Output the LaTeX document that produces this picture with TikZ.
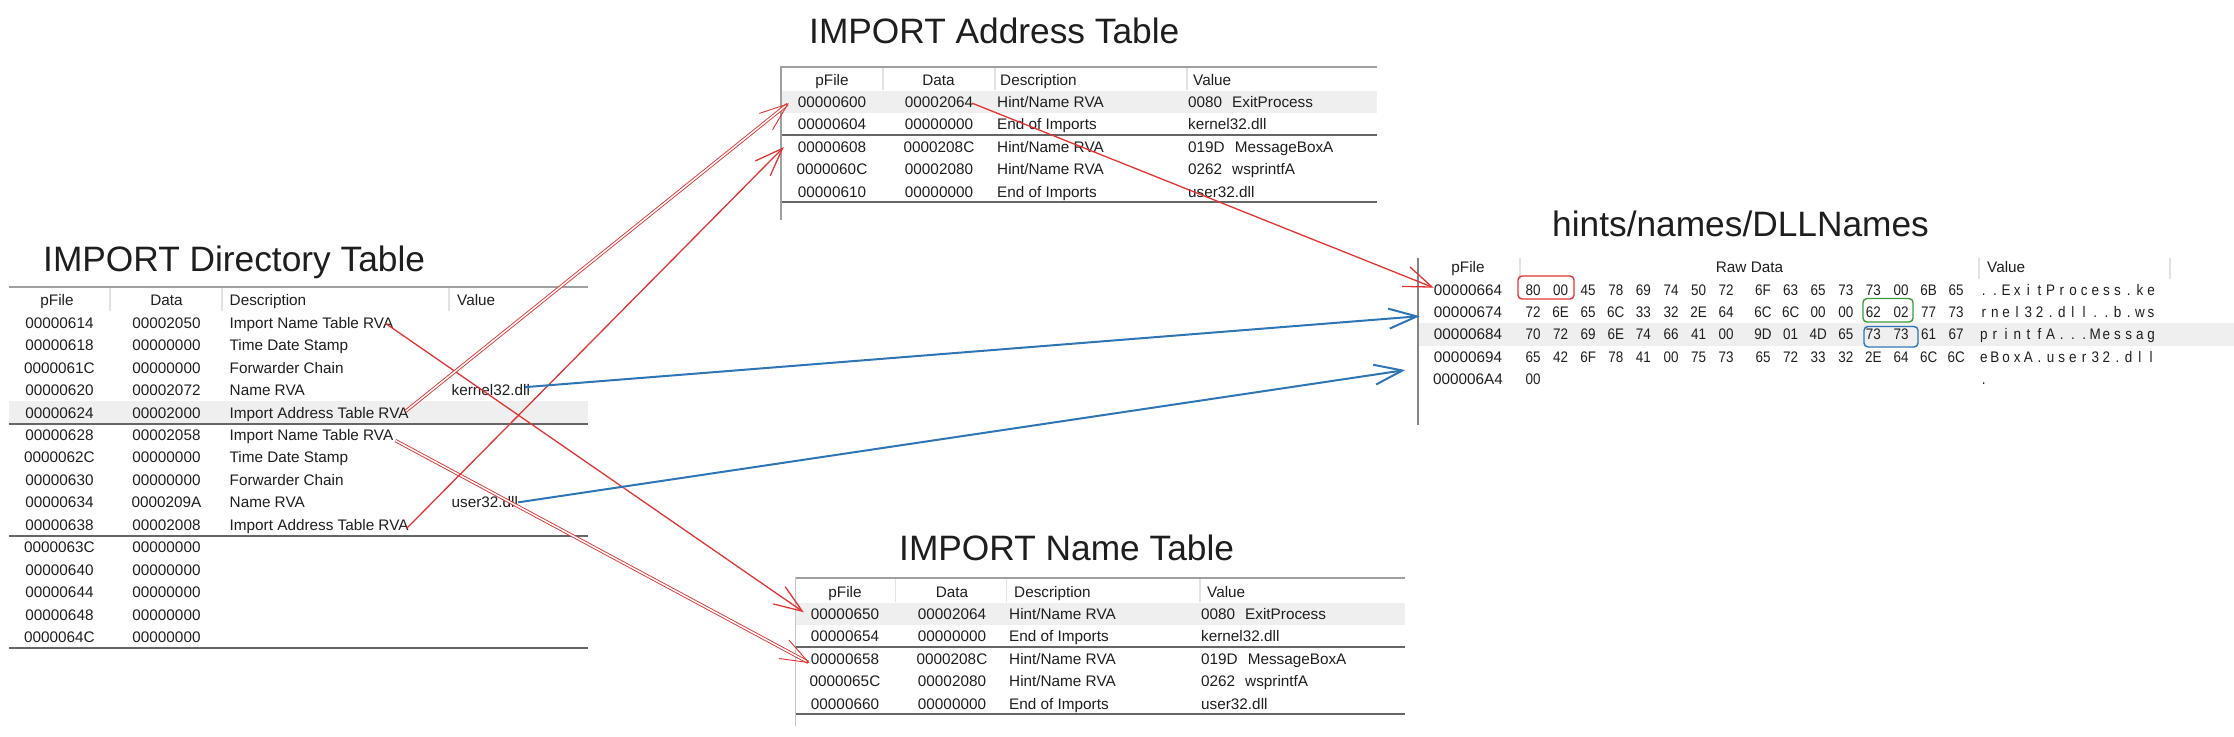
\documentclass[tikz,border=0pt]{standalone}
\usepackage{fontspec}
\setmainfont{Liberation Sans}
\newfontfamily\hexfont[FakeStretch=0.88]{Liberation Sans}
\usetikzlibrary{arrows.meta,calc}
\definecolor{txt}{HTML}{1E1E1E}
\definecolor{band}{HTML}{EFEFEF}
\definecolor{topline}{HTML}{A0A0A0}
\definecolor{grpline}{HTML}{666666}
\definecolor{sepline}{HTML}{E2E2E2}
\definecolor{arrred}{HTML}{E23434}
\definecolor{arrblue}{HTML}{2E75B6}
\definecolor{boxgreen}{HTML}{3A9A3A}

\newcommand\charcells[1]{\charcellsA#1\relax}
\def\charcellsA#1{\ifx\relax#1\else\makebox[11.15pt][c]{#1}\expandafter\charcellsA\fi}

\tikzset{
  cell/.style={inner sep=0pt, text=txt, font=\fontsize{15.3}{18}\selectfont},
  hexcell/.style={inner sep=0pt, text=txt, font=\hexfont\fontsize{15.3}{18}\selectfont},
  ttl/.style={inner sep=0pt, text=txt, font=\fontsize{35.3}{42}\selectfont, anchor=base west},
  topln/.style={draw=topline, line width=2pt},
  grpln/.style={draw=grpline, line width=2pt},
  sepln/.style={draw=sepline, line width=1.2pt},
  bandfill/.style={fill=band, draw=none},
  redarrow/.style={draw=arrred, line width=1.3pt, -{Straight Barb[length=28pt,width=21pt]}},
  reddouble/.style={draw=arrred, line width=0.9pt, double=white, double distance=1.5pt, -{Straight Barb[length=28pt,width=21pt]}},
  bluearrow/.style={draw=arrblue, line width=2pt, -{Straight Barb[length=28pt,width=20pt]}},
  hlbox/.style={rounded corners=4pt, line width=1.4pt},
}

% generic 4-column row: prefix, index, y centre, pFile, Data, Description, Value
\newcommand\xrow[7]{%
  \pgfmathsetmacro\yb{#3+5.5}%
  \node[cell,anchor=base] (#1-#2-pf) at (\cpf,\yb) {#4};
  \node[cell,anchor=base] (#1-#2-da) at (\cda,\yb) {#5};
  \node[cell,anchor=base west] (#1-#2-de) at (\cde,\yb) {#6};
  \node[cell,anchor=base west] (#1-#2-va) at (\cva,\yb) {#7};
}

% hex dump row: index, pFile, bytes, value characters
\newcommand\hexrow[4]{%
  \pgfmathsetmacro\yb{289.5+22.44*#1+5.5}%
  \node[cell,anchor=base] (h-#1-pf) at (1468,\yb) {#2};
  \foreach \b [count=\k from 0] in {#3} {
    \pgfmathsetmacro\bx{\k<8 ? 1533+27.6*\k : 1763+27.6*(\k-8)}
    \node[hexcell,anchor=base] (h-#1-b\k) at (\bx,\yb) {\b};
  }
  \node[hexcell,anchor=base west] (h-#1-val) at (1978,\yb) {\charcells{#4}};
}

\begin{document}
\begin{tikzpicture}[x=1pt,y=-1pt]
\useasboundingbox (0,0) rectangle (2234,736);

% ---------------- highlight bands ----------------
\fill[bandfill] (9,401.4) rectangle (588,423.8);
\fill[bandfill] (782,90.8) rectangle (1377,113.2);
\fill[bandfill] (796,602.8) rectangle (1404.5,625.2);
\fill[bandfill] (1419,323.2) rectangle (2234,345.6);

% ---------------- titles ----------------
\node[ttl] (t-dir) at (43,271) {IMPORT Directory Table};
\node[ttl] (t-iat) at (809,43.6) {IMPORT Address Table};
\node[ttl] (t-int) at (899,560) {IMPORT Name Table};
\node[ttl] (t-hnt) at (1552,236.6) {hints/names/DLLNames};

% ---------------- Directory table ----------------
\draw[topln] (9,287) -- (588,287);
\foreach \x in {110,222,449} \draw[sepln] (\x,288) -- (\x,311);
\draw[grpln] (9,423.5) -- (588,423.5);
\draw[grpln] (9,535.5) -- (588,535.5);
\draw[grpln] (9,647.5) -- (588,647.5);
\node[cell,anchor=base] (dh-pf) at (57,305.5) {pFile};
\node[cell,anchor=base] (dh-da) at (166.5,305.5) {Data};
\node[cell,anchor=base west] (dh-de) at (229.5,305.5) {Description};
\node[cell,anchor=base west] (dh-va) at (457,305.5) {Value};
\foreach \i/\pf/\da/\de in {
  0/00000614/00002050/Import Name Table RVA,
  1/00000618/00000000/Time Date Stamp,
  2/0000061C/00000000/Forwarder Chain,
  3/00000620/00002072/Name RVA,
  4/00000624/00002000/Import Address Table RVA,
  5/00000628/00002058/Import Name Table RVA,
  6/0000062C/00000000/Time Date Stamp,
  7/00000630/00000000/Forwarder Chain,
  8/00000634/0000209A/Name RVA,
  9/00000638/00002008/Import Address Table RVA} {
  \pgfmathsetmacro\yb{322.8+22.44*\i+5.5}
  \node[cell,anchor=base] (d-\i-pf) at (59.5,\yb) {\pf};
  \node[cell,anchor=base] (d-\i-da) at (166.5,\yb) {\da};
  \node[cell,anchor=base west] (d-\i-de) at (229.5,\yb) {\de};
}
\foreach \i/\pf in {10/0000063C,11/00000640,12/00000644,13/00000648,14/0000064C} {
  \pgfmathsetmacro\yb{322.8+22.44*\i+5.5}
  \node[cell,anchor=base] (d-\i-pf) at (59.5,\yb) {\pf};
  \node[cell,anchor=base] (d-\i-da) at (166.5,\yb) {00000000};
}
\node[cell,anchor=base west] (d-3-va) at (451.5,395.6) {kernel32.dll};
\node[cell,anchor=base west] (d-8-va) at (451.5,507.8) {user32.dll};

% ---------------- Address table ----------------
\draw[topln] (781,66.5) -- (1377,66.5);
\draw[topln] (781,66) -- (781,220);
\foreach \x in {883,995,1187} \draw[sepln] (\x,67.5) -- (\x,90);
\draw[grpln] (782,134.5) -- (1377,134.5);
\draw[grpln] (782,201.5) -- (1377,201.5);
\node[cell,anchor=base] (ah-pf) at (832,85) {pFile};
\node[cell,anchor=base] (ah-da) at (938.5,85) {Data};
\node[cell,anchor=base west] (ah-de) at (1000,85) {Description};
\node[cell,anchor=base west] (ah-va) at (1193,85) {Value};
\def\cpf{832}\def\cda{939}\def\cde{997}\def\cva{1188}
\xrow{a}{0}{102}{00000600}{00002064}{Hint/Name RVA}{0080\hspace{10pt}ExitProcess}
\xrow{a}{1}{124.44}{00000604}{00000000}{End of Imports}{kernel32.dll}
\xrow{a}{2}{146.88}{00000608}{0000208C}{Hint/Name RVA}{019D\hspace{10pt}MessageBoxA}
\xrow{a}{3}{169.32}{0000060C}{00002080}{Hint/Name RVA}{0262\hspace{10pt}wsprintfA}
\xrow{a}{4}{191.76}{00000610}{00000000}{End of Imports}{user32.dll}

% ---------------- Name table ----------------
\draw[topln] (795.5,577.5) -- (1404.5,577.5);
\draw[draw=topline!60, line width=1.2pt] (795.5,577) -- (795.5,726);
\foreach \x in {895.5,1006.5,1200} \draw[sepln] (\x,578.5) -- (\x,602);
\draw[grpln] (796,646.5) -- (1404.5,646.5);
\draw[grpln] (796,713.5) -- (1404.5,713.5);
\node[cell,anchor=base] (nh-pf) at (845,597.5) {pFile};
\node[cell,anchor=base] (nh-da) at (952,597.5) {Data};
\node[cell,anchor=base west] (nh-de) at (1014,597.5) {Description};
\node[cell,anchor=base west] (nh-va) at (1207,597.5) {Value};
\def\cpf{845}\def\cda{952}\def\cde{1009}\def\cva{1201}
\xrow{n}{0}{614}{00000650}{00002064}{Hint/Name RVA}{0080\hspace{10pt}ExitProcess}
\xrow{n}{1}{636.44}{00000654}{00000000}{End of Imports}{kernel32.dll}
\xrow{n}{2}{658.88}{00000658}{0000208C}{Hint/Name RVA}{019D\hspace{10pt}MessageBoxA}
\xrow{n}{3}{681.32}{0000065C}{00002080}{Hint/Name RVA}{0262\hspace{10pt}wsprintfA}
\xrow{n}{4}{703.76}{00000660}{00000000}{End of Imports}{user32.dll}

% ---------------- hints / names table ----------------
\draw[draw=grpline!80, line width=2pt] (1417.5,258) -- (1417.5,425);
\foreach \x in {1520,1979,2170} \draw[sepln] (\x,258) -- (\x,279);
\node[cell,anchor=base] (hh-pf) at (1468,272.5) {pFile};
\node[cell,anchor=base] (hh-raw) at (1749.5,272.5) {Raw Data};
\node[cell,anchor=base west] (hh-va) at (1987,272.5) {Value};
\hexrow{0}{00000664}{80,00,45,78,69,74,50,72,6F,63,65,73,73,00,6B,65}{..ExitProcess.ke}
\hexrow{1}{00000674}{72,6E,65,6C,33,32,2E,64,6C,6C,00,00,62,02,77,73}{rnel32.dll..b.ws}
\hexrow{2}{00000684}{70,72,69,6E,74,66,41,00,9D,01,4D,65,73,73,61,67}{printfA...Messag}
\hexrow{3}{00000694}{65,42,6F,78,41,00,75,73,65,72,33,32,2E,64,6C,6C}{eBoxA.user32.dll}
\hexrow{4}{000006A4}{00}{.}

% highlight boxes
\draw[hlbox, draw=arrred] (1518,276) rectangle (1574,299);
\draw[hlbox, draw=boxgreen] (1863,298.5) rectangle (1913,322);
\draw[hlbox, draw=arrblue] (1864,326.5) rectangle (1918,347);

% ---------------- connectors ----------------
\draw[redarrow] ($(d-0-de.east)+(-8,-1)$) -- ($(n-0-pf.west)+(-7,-2)$);
\draw[reddouble] ($(d-5-de.east)+(2,4)$) -- ($(n-2-pf.west)+(-1,4)$);
\draw[reddouble] ($(d-4-de.east)+(-3,-3)$) -- ($(a-0-pf.west)+(-9,1)$);
\draw[redarrow] ($(d-9-de.east)+(-2,2)$) -- ($(a-2-pf.west)+(-14,0)$);
\draw[redarrow] ($(a-0-da.east)+(-1,1)$) -- ($(h-0-pf.west)+(0,-2)$);
\draw[bluearrow] ($(d-3-va.east)+(-5,-3)$) -- ($(h-1-pf.west)+(-14,4)$);
\draw[bluearrow] (d-8-va.east) -- ($(h-3-pf.west)+(-28.5,13)$);
\end{tikzpicture}
\end{document}
